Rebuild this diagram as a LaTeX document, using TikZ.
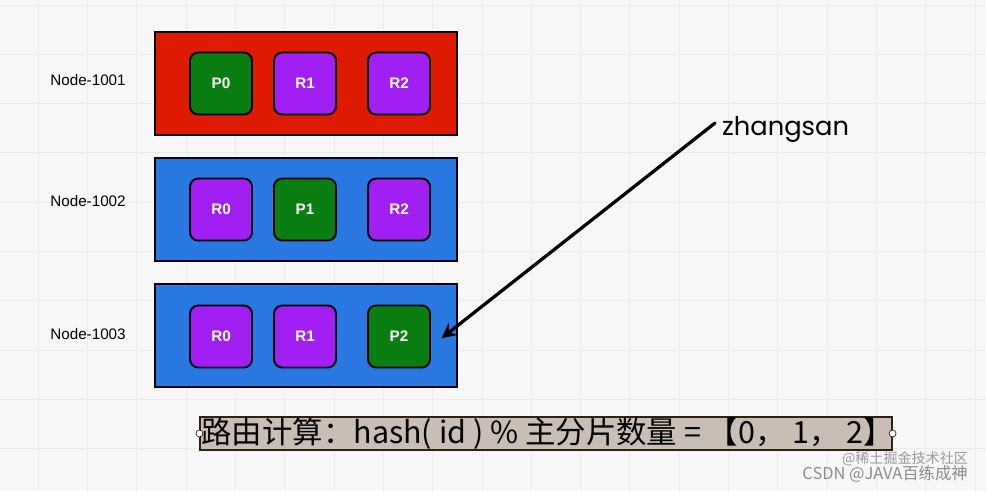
\documentclass[tikz,border=0pt]{standalone}
\usepackage{fontspec}
\setmainfont{Liberation Sans}
\newfontfamily\cjkfont{Noto Sans CJK SC}
\newfontfamily\handfont{Poppins}
\usetikzlibrary{arrows.meta}
\definecolor{hostred}{HTML}{DE1A02}
\definecolor{hostblue}{HTML}{2A78E2}
\definecolor{primgreen}{HTML}{0A7E12}
\definecolor{replpurple}{HTML}{A11FF2}
\definecolor{notetan}{HTML}{C9BEB6}
\definecolor{gridgray}{HTML}{EBEBEB}
\newcommand{\hostname}[1]{\fontsize{13}{15}\selectfont #1}

\begin{document}
\begin{tikzpicture}[x=0.03cm,y=-0.03cm]
                        \tikzstyle{host}=[draw=black, line width=2.4pt, inner sep=0pt,
                            minimum width=9.06cm, minimum height=3.09cm]
                        \tikzstyle{shard}=[draw=black, line width=1.6pt, rounded corners=7pt,
                            inner sep=0pt, minimum size=1.86cm, text=white,
                            font=\bfseries\fontsize{13}{15}\selectfont]
                        \tikzstyle{primary}=[shard, fill=primgreen]
                        \tikzstyle{replica}=[shard, fill=replpurple]
                        % canvas and grid
                        \fill[white!97!black] (0,0) rectangle (986,491);
                        \useasboundingbox (0,0) rectangle (986,491);
                        \foreach \gx in {38.3,87.6,...,986} {\draw[gridgray, line width=0.8pt] (\gx,0) -- (\gx,491);}
                        \foreach \gy in {5,54.3,...,491} {\draw[gridgray, line width=0.8pt] (0,\gy) -- (986,\gy);}
                        % hosts
                        \node[host, fill=hostred] (host1) at (306,83.5) {};
                        \node[host, fill=hostblue] (host2) at (306,209.5) {};
                        \node[host, fill=hostblue] (host3) at (306,335.5) {};
                        \node (lab1) at (88,80) {\hostname{Node-1001}};
                        \node (lab2) at (88,201) {\hostname{Node-1002}};
                        \node (lab3) at (88,334) {\hostname{Node-1003}};
                        % shards
                        \node[primary] (p0) at (221,83.5) {P0};
                        \node[replica] (r1a) at (305,83.5) {R1};
                        \node[replica] (r2a) at (399,83.5) {R2};
                        \node[replica] (r0b) at (221,209.5) {R0};
                        \node[primary] (p1) at (305,209.5) {P1};
                        \node[replica] (r2b) at (399,209.5) {R2};
                        \node[replica] (r0c) at (221,336.5) {R0};
                        \node[replica] (r1c) at (305,336.5) {R1};
                        \node[primary] (p2) at (399,336.5) {P2};
                        % document routed to P2
                        \node[anchor=west, font=\handfont\fontsize{22}{26}\selectfont] (doc) at (718,129) {zhangsan};
                        \coordinate (tail) at (715,123);
                        \coordinate (hit) at ([xshift=9pt, yshift=-1.5pt]p2.east);
                        \draw[line width=2.8pt, line cap=round, -{Stealth[length=13pt, width=13pt, inset=5pt]}] (tail) -- (hit);
                        % routing formula
                        \node[draw=black!75!brown, fill=notetan, line width=1pt, inner sep=0pt,
                            minimum width=20.76cm, minimum height=0.99cm] (rule) at (546,433.5) {};
                        \node[anchor=west, font=\cjkfont\fontsize{26}{30}\selectfont, inner sep=0pt] (ruletext) at (201,433.5)
                            {路由计算：hash( id ) \% 主分片数量 = 【0， 1， 2】};
                        \draw[fill=white, line width=0.5pt] (rule.west) circle (3.5);
                        \draw[fill=white, line width=0.5pt] (rule.east) circle (3.5);
                        % watermark
                        \node[anchor=east, text=black!40, font=\cjkfont\fontsize{12}{14}\selectfont] (wm1) at (972,459) {@稀土掘金技术社区};
                        \node[anchor=east, text=black!45, font=\cjkfont\fontsize{14}{16}\selectfont] (wm2) at (972,474) {CSDN @JAVA百练成神};
                    \end{tikzpicture}
\end{document}
